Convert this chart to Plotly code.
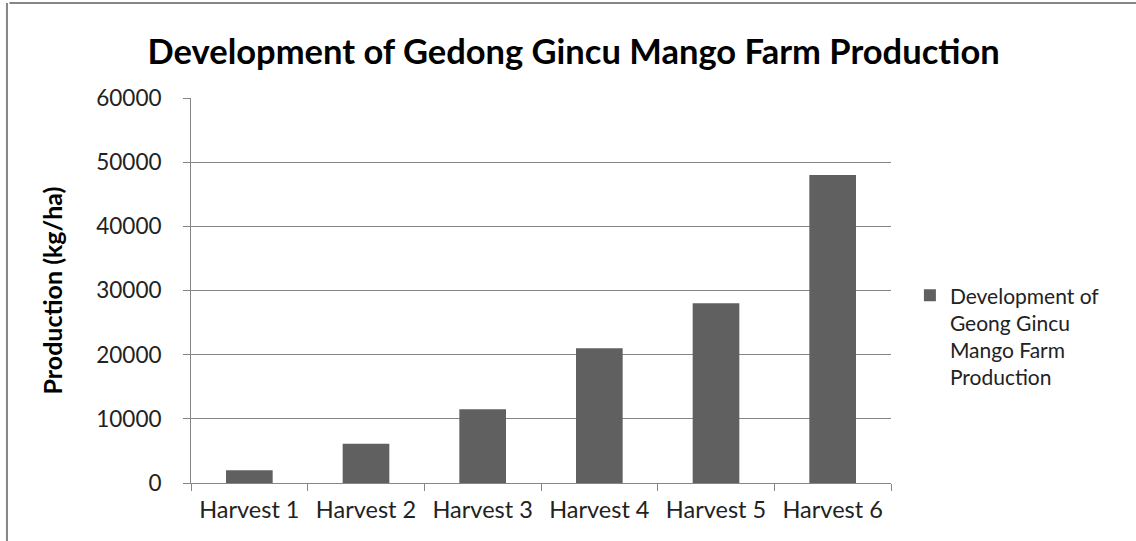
import plotly.graph_objects as go

categories = ["Harvest 1", "Harvest 2", "Harvest 3", "Harvest 4", "Harvest 5", "Harvest 6"]
production = [2000, 6100, 11500, 21000, 28000, 48000]
y_ticks = [0, 10000, 20000, 30000, 40000, 50000, 60000]
legend_lines = ["Development of", "Geong Gincu", "Mango Farm", "Production"]

FONT = "Lato, 'Open Sans', sans-serif"
series_name = "<br>".join(legend_lines)

fig = go.Figure()
fig.add_trace(go.Bar(
    x=categories, y=production, name=series_name,
    marker=dict(color="#606060", line=dict(width=0)),
    showlegend=True,
))

fig.update_layout(
    width=1136, height=541,
    margin=dict(l=191, r=245, t=98, b=58, autoexpand=False),
    paper_bgcolor="white", plot_bgcolor="white",
    bargap=0.6,
    font=dict(family=FONT, size=16, color="#222222"),
    title=dict(text="<b>Development of Gedong Gincu Mango Farm Production</b>",
               x=0.505, xanchor="center", y=0.904, yanchor="middle",
               font=dict(family=FONT, size=34.5, color="#000000")),
    legend=dict(x=1.027, xanchor="left", y=0.38, yanchor="middle",
                font=dict(family=FONT, size=21, color="#222222"),
                itemwidth=30, tracegroupgap=0, valign="top"),
    shapes=[
        dict(type="line", xref="paper", yref="paper", x0=-0.2593, x1=1.36, y0=1.2468, y1=1.2468,
             line=dict(color="#868686", width=2)),
        dict(type="line", xref="paper", yref="paper", x0=-0.2629, x1=-0.2629, y0=1.2468, y1=-0.16,
             line=dict(color="#868686", width=2)),
    ],
)

fig.update_xaxes(
    showline=True, linecolor="#868686", linewidth=1,
    ticks="outside", ticklen=7, tickcolor="#868686", tickson="boundaries",
    ticklabelstandoff=6,
    showgrid=False, tickfont=dict(family=FONT, size=23.5, color="#222222"),
)
fig.update_yaxes(
    range=[0, 60000], tickvals=y_ticks, ticktext=[str(v) for v in y_ticks],
    showline=True, linecolor="#868686", linewidth=1,
    ticks="outside", ticklen=7, tickcolor="#868686",
    ticklabelstandoff=17,
    showgrid=True, gridcolor="#868686", gridwidth=1, zeroline=False,
    tickfont=dict(family=FONT, size=22.5, color="#222222"),
    title=dict(text="<b>Production (kg/ha)</b>", font=dict(family=FONT, size=25, color="#000000"), standoff=26),
)

fig.write_html("out.html")
